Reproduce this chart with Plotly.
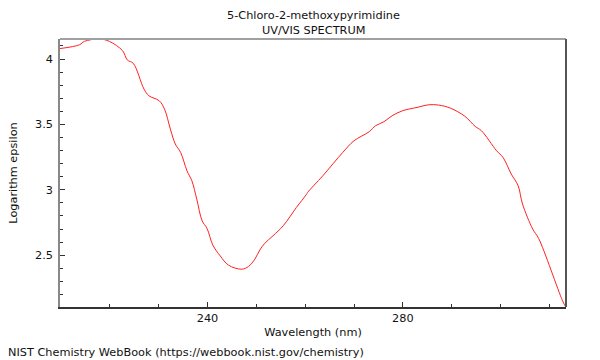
import plotly.graph_objects as go

wavelength = [209.8, 213.8, 214.8, 217.9, 219.9, 222.6, 223.6, 224.8, 227.0, 228.0,
              230.1, 231.2, 232.4, 233.4, 234.5, 235.8, 236.8, 237.8, 238.9, 239.9,
              241.1, 242.6, 244.3, 247.0, 248.4, 249.7, 250.7, 251.7, 253.4, 255.5,
              258.2, 260.2, 260.5, 263.6, 267.7, 270.0, 273.1, 274.4, 276.1, 277.8,
              279.9, 282.9, 285.3, 287.3, 289.7, 292.7, 294.8, 296.1, 299.2, 300.5,
              302.2, 303.6, 304.5, 306.6, 307.8, 312.7, 313.4]
log_epsilon = [4.080, 4.109, 4.135, 4.153, 4.135, 4.064, 3.992, 3.967, 3.770, 3.719,
               3.681, 3.617, 3.464, 3.350, 3.286, 3.145, 3.069, 2.929, 2.763, 2.705,
               2.577, 2.495, 2.424, 2.393, 2.414, 2.470, 2.539, 2.590, 2.648, 2.725,
               2.865, 2.962, 2.980, 3.107, 3.286, 3.375, 3.444, 3.490, 3.520, 3.566,
               3.604, 3.630, 3.650, 3.648, 3.625, 3.562, 3.485, 3.451, 3.298, 3.248,
               3.120, 3.031, 2.891, 2.699, 2.628, 2.151, 2.100]

x_ticks = [240, 280]
y_ticks = [2.5, 3, 3.5, 4]
y_tick_labels = ["2.5", "3", "3.5", "4"]

font = dict(family="DejaVu Sans", size=11.3, color="#111111")

fig = go.Figure()
fig.add_trace(go.Scatter(x=wavelength, y=log_epsilon, mode="lines",
                         line=dict(color="#ff2020", width=1), line_shape="spline",
                         hoverinfo="skip"))

fig.update_layout(
    width=600, height=360,
    margin=dict(l=57, r=34, t=39, b=53),
    paper_bgcolor="white", plot_bgcolor="white",
    showlegend=False,
    font=font,
    xaxis=dict(range=[209.8, 313.4], tickvals=x_ticks, ticks="inside", ticklen=5,
               tickcolor="#333333", showgrid=False, zeroline=False,
               showline=True, linecolor="#333333", linewidth=1.5,
               minor=dict(dtick=10, ticks="inside", ticklen=3, tickcolor="#333333", showgrid=False),
               title=dict(text="Wavelength (nm)", standoff=4, font=font),
               tickfont=font),
    yaxis=dict(range=[2.104, 4.153], tickvals=y_ticks, ticktext=y_tick_labels,
               ticks="inside", ticklen=5, tickcolor="#333333",
               showgrid=False, zeroline=False,
               showline=True, linecolor="#888888", linewidth=1.5,
               minor=dict(dtick=0.1, ticks="inside", ticklen=3, tickcolor="#333333", showgrid=False),
               title=dict(text="Logarithm epsilon", standoff=15, font=font),
               tickfont=font, ticklabelstandoff=3),
    shapes=[
        dict(type="line", xref="paper", yref="paper", x0=0, x1=1, y0=1, y1=1,
             line=dict(color="#a0a0a0", width=2)),
        dict(type="line", xref="paper", yref="paper", x0=1, x1=1, y0=0, y1=1,
             line=dict(color="#555555", width=2)),
    ],
    annotations=[
        dict(text="5-Chloro-2-methoxypyrimidine", xref="paper", yref="paper",
             x=0.5, y=1, yshift=24, xanchor="center", yanchor="middle",
             showarrow=False, font=font),
        dict(text="UV/VIS SPECTRUM", xref="paper", yref="paper",
             x=0.5, y=1, yshift=9, xanchor="center", yanchor="middle",
             showarrow=False, font=font),
        dict(text="NIST Chemistry WebBook (https://webbook.nist.gov/chemistry)",
             xref="paper", yref="paper", x=0, xshift=-54, y=0, yshift=-45,
             xanchor="left", yanchor="middle", showarrow=False, font=font),
    ],
)

fig.write_html("out.html", config={"displayModeBar": False},
               post_script="document.body.style.margin='0';document.body.style.overflow='hidden';")
